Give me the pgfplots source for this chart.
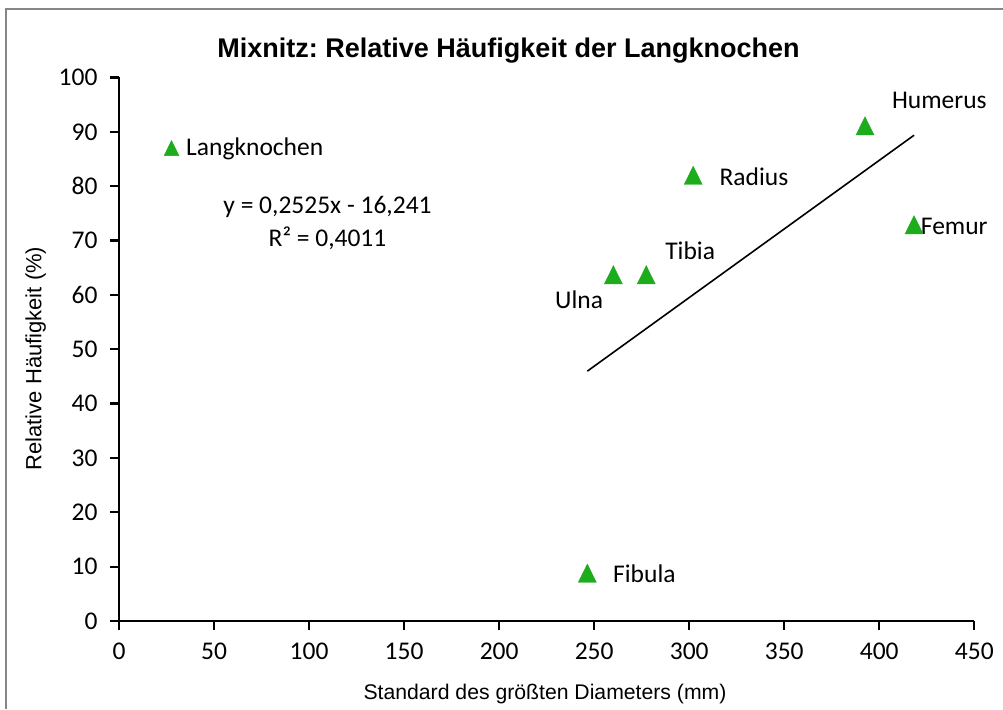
\documentclass[border=0pt]{standalone}
\usepackage{pgfplots}
\pgfplotsset{compat=1.18}
\usepackage{fontspec}
\setmainfont{Carlito}
\newfontfamily\arial{Liberation Sans}
\definecolor{mgreen}{RGB}{28,172,28}
\definecolor{framegray}{RGB}{134,134,134}
\frenchspacing
\begin{document}
\begin{tikzpicture}[x=1pt,y=1pt]
\useasboundingbox (0,0) rectangle (1003,709);
\fill[white] (0,0) rectangle (1003,709);
\draw[framegray, line width=1.5pt] (6,0) -- (6,700) -- (1003,700);
\begin{axis}[
  at={(119pt,88pt)}, anchor=south west,
  scale only axis, width=855.3pt, height=543.5pt,
  xmin=0, xmax=450, ymin=0, ymax=100,
  xtick={0,50,...,450}, ytick={0,10,...,100},
  axis lines=left, axis line style={-, line width=2.8pt},
  tick align=outside, major tick length=9pt,
  every tick/.style={black, line width=2.2pt},
  tick label style={font=\fontsize{25.5}{30}\selectfont},
  /pgf/number format/assume math mode=true,
  xticklabel style={yshift=-9pt},
  yticklabel style={xshift=-9pt},
  clip=false,
  legend style={draw=none, fill=none, at={(0.0518,0.871)}, anchor=west,
    font=\fontsize{25.5}{30}\selectfont, inner sep=0pt,
    nodes={inner sep=0pt}},
  legend image code/.code={\path[draw=none,fill=none] (0pt,-5pt) rectangle (22.7pt,5pt); \draw[#1, mark size=8.6pt] plot coordinates {(8pt,0pt)};},
]
\addplot[only marks, mark=triangle*, mark size=10.4pt, color=mgreen,
  mark options={fill=mgreen, draw=mgreen, yscale=1.17, yshift=-2.6pt}]
  coordinates {(392.5,91.1) (418.3,72.9) (302.1,82.0) (277.4,63.7) (260.1,63.7) (246.4,8.8)};
\addlegendentry{Langknochen}
\addplot[black, line width=1.6pt, forget plot] coordinates {(246.4,45.97) (418.3,89.38)};

\begin{scope}[every node/.style={inner sep=0pt, font=\fontsize{25.5}{30}\selectfont}]
\node[anchor=base west] at (axis cs:406.6,94.3) {Humerus};
\node[anchor=base west] at (axis cs:315.9,80.2) {Radius};
\node[anchor=base west] at (axis cs:421.8,71.2) {Femur};
\node[anchor=base west] at (axis cs:287.3,66.6) {Tibia};
\node[anchor=base west] at (axis cs:229.4,57.5) {Ulna};
\node[anchor=base west] at (axis cs:259.9,7.05) {Fibula};
\node[anchor=base] at (axis cs:109.7,75.0) {y = 0,2525x - 16,241};
\node[anchor=base] at (axis cs:109.7,68.9) {R² = 0,4011};
\end{scope}
\end{axis}
\node[anchor=base, inner sep=0pt, font=\arial\bfseries\fontsize{27}{31}\selectfont] at (508.5,651.5) {Mixnitz: Relative Häufigkeit der Langknochen};
\node[anchor=base, inner sep=0pt, font=\arial\fontsize{21.2}{25}\selectfont] at (545,9.7) {Standard des größten Diameters (mm)};
\node[anchor=base, rotate=90, inner sep=0pt, font=\arial\fontsize{22}{26}\selectfont] at (41.3,350.5) {Relative Häufigkeit (\%)};
\end{tikzpicture}
\end{document}
